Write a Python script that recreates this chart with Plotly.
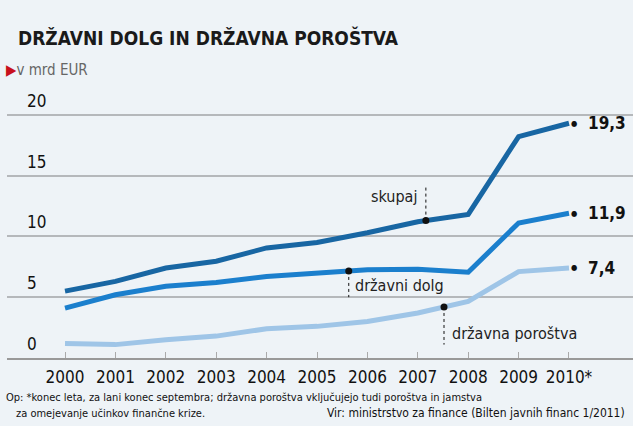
import numpy as np
import plotly.graph_objects as go

years = [2000, 2001, 2002, 2003, 2004, 2005, 2006, 2007, 2008, 2009, 2010]
year_labels = ["2000", "2001", "2002", "2003", "2004", "2005", "2006", "2007", "2008", "2009", "2010*"]
skupaj = [5.5, 6.3, 7.4, 7.95, 9.05, 9.5, 10.3, 11.2, 11.8, 18.2, 19.3]
drzavni_dolg = [4.1, 5.2, 5.9, 6.2, 6.7, 7.0, 7.25, 7.3, 7.05, 11.1, 11.9]
drzavna_porostva = [1.2, 1.1, 1.5, 1.8, 2.4, 2.6, 3.0, 3.7, 4.65, 7.1, 7.4]
end_labels = ["19,3", "11,9", "7,4"]
y_ticks = [0, 5, 10, 15, 20]

FONT = "DejaVu Sans Condensed, Liberation Sans Narrow, Arial Narrow, sans-serif"
BG = "#eef3f7"
C_SK = "#1866a3"
C_DD = "#1b7fcd"
C_DP = "#9fc5e7"

W, H = 633, 426
ML, MR, MT, MB = 7, 0, 100, 68
PW, PH = W - ML - MR, H - MT - MB


def px(p):
    return (p - ML) / PW


def py(p):
    return (H - MB - p) / PH


fig = go.Figure()
series = [(skupaj, C_SK), (drzavni_dolg, C_DD), (drzavna_porostva, C_DP)]
for vals, col in series[::-1]:
    fig.add_trace(go.Scatter(x=years, y=vals, mode="lines",
                             line=dict(color=col, width=5), hoverinfo="skip"))

# end dots and value labels
for (vals, col), lab in zip(series, end_labels):
    fig.add_annotation(x=years[-1], y=vals[-1], text="●", showarrow=False,
                       xshift=5, font=dict(size=8, color="#111", family=FONT))
    fig.add_annotation(x=years[-1], y=vals[-1], text="<b>" + lab + "</b>", showarrow=False,
                       xanchor="left", xshift=17, font=dict(size=17, color="#111", family=FONT))

# callouts: (series, x position, end of dotted line, label, label anchor)
callouts = [
    (skupaj, 2007.16, 14.1, "skupaj", "right", -7, 13.3),
    (drzavni_dolg, 2005.63, 5.0, "državni dolg", "left", 4, 6.0),
    (drzavna_porostva, 2007.52, 1.1, "državna poroštva", "left", 6, 2.05),
]
for vals, xc, yend, text, anchor, xsh, ylab in callouts:
    yc = float(np.interp(xc, years, vals))
    fig.add_shape(type="line", x0=xc, x1=xc, y0=yc, y1=yend,
                  line=dict(color="#111", width=1, dash="dot"))
    fig.add_trace(go.Scatter(x=[xc], y=[yc], mode="markers",
                             marker=dict(color="#111", size=7), hoverinfo="skip"))
    fig.add_annotation(x=xc, y=ylab, text=text, showarrow=False, xanchor=anchor,
                       xshift=xsh, font=dict(size=16, color="#222", family=FONT))

# y tick labels above gridlines
for t in y_ticks:
    fig.add_annotation(x=px(25), xref="paper", y=t, yref="y", text=str(t),
                       showarrow=False, xanchor="left", yanchor="bottom", yshift=2,
                       font=dict(size=17, color="#111", family=FONT))

# title, subtitle, footnotes
fig.add_annotation(x=px(16), y=py(37), xref="paper", yref="paper",
                   text="<b>DRŽAVNI DOLG IN DRŽAVNA POROŠTVA</b>", showarrow=False,
                   xanchor="left", yanchor="middle",
                   font=dict(size=19, color="#1a1a1a", family=FONT))
fig.add_annotation(x=px(4), y=py(70), xref="paper", yref="paper",
                   text="<span style='color:#c8101c'>▶</span>v mrd EUR", showarrow=False,
                   xanchor="left", yanchor="middle",
                   font=dict(size=15, color="#666", family=FONT))
fig.add_annotation(x=px(4), y=py(397), xref="paper", yref="paper",
                   text="Op: *konec leta, za lani konec septembra; državna poroštva vključujejo tudi poroštva in jamstva",
                   showarrow=False, xanchor="left", yanchor="middle",
                   font=dict(size=11, color="#111", family=FONT))
fig.add_annotation(x=px(14), y=py(413), xref="paper", yref="paper",
                   text="za omejevanje učinkov finančne krize.",
                   showarrow=False, xanchor="left", yanchor="middle",
                   font=dict(size=11, color="#111", family=FONT))
fig.add_annotation(x=px(627), y=py(413), xref="paper", yref="paper",
                   text="Vir: ministrstvo za finance (Bilten javnih financ 1/2011)",
                   showarrow=False, xanchor="right", yanchor="middle",
                   font=dict(size=12, color="#111", family=FONT))

fig.update_layout(
    width=W, height=H,
    margin=dict(l=ML, r=MR, t=MT, b=MB),
    paper_bgcolor=BG, plot_bgcolor=BG,
    showlegend=False,
    xaxis=dict(range=[1998.849, 2011.27], tickmode="array", tickvals=years,
               ticktext=year_labels, ticks="inside", ticklen=6, tickcolor="#aaa",
               showline=True, linecolor="#999", linewidth=2, showgrid=False,
               zeroline=False, tickfont=dict(size=17, color="#111", family=FONT),
               ticklabelstandoff=3, fixedrange=True),
    yaxis=dict(range=[0, PH / 12.165], tickvals=[5, 10, 15, 20], showticklabels=False,
               showgrid=True, gridcolor="#b5b8bb", gridwidth=1.5, zeroline=False,
               fixedrange=True),
)
fig.write_html("out.html")
